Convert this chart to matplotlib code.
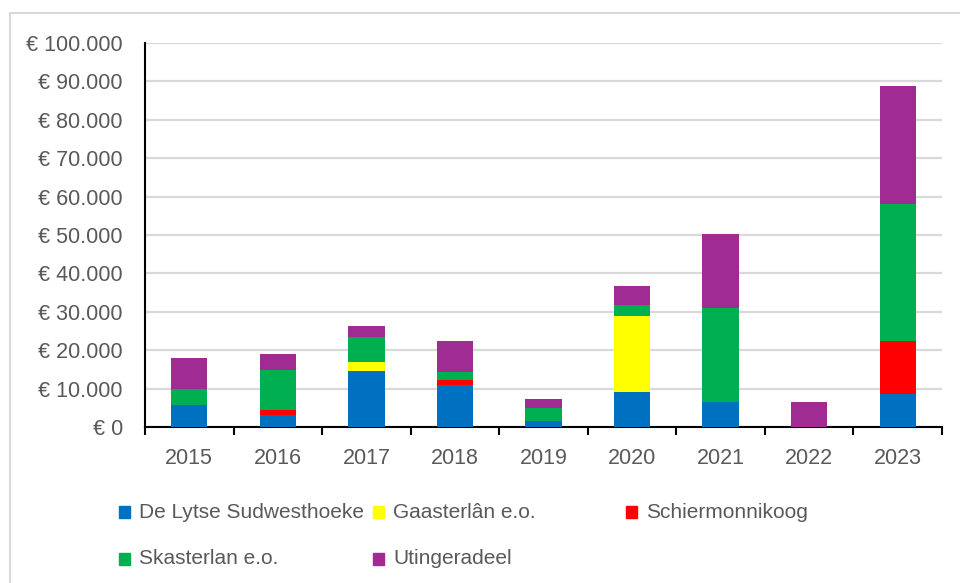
import matplotlib.pyplot as plt
from matplotlib.patches import Rectangle
import numpy as np

plt.rcParams['font.family'] = ['Liberation Sans', 'DejaVu Sans']

# Data (in euro)
years = ['2015', '2016', '2017', '2018', '2019', '2020', '2021', '2022', '2023']
series_names = ['De Lytse Sudwesthoeke', 'Gaasterlân e.o.', 'Schiermonnikoog',
                'Skasterlan e.o.', 'Utingeradeel']
de_lytse = [5600, 3200, 14600, 10900, 1600, 9000, 6600, 0, 8700]
gaasterlan = [0, 0, 2400, 0, 0, 20000, 0, 0, 0]
schiermonnikoog = [0, 1100, 0, 1400, 0, 0, 0, 0, 13800]
skasterlan = [4300, 10600, 6500, 1900, 3400, 2900, 24400, 0, 35700]
utingeradeel = [8100, 4100, 2900, 8100, 2300, 4800, 19300, 6600, 30700]

colors = ['#0070C0', '#FFFF00', '#FF0000', '#00B050', '#A02B93']
text_col = '#595959'

fig = plt.figure(figsize=(9.6, 5.83), dpi=100)
# chart border
fig.patches.append(Rectangle((10 / 960, -0.01), 1.0, (583 - 13) / 583 + 0.01,
                             transform=fig.transFigure, fill=False,
                             edgecolor='#d9d9d9', linewidth=1.5))

ax = fig.add_axes([145 / 960, 156 / 583, (942 - 145) / 960, (427 - 43) / 583])

x = np.arange(len(years))
bottom = np.zeros(len(years))
for vals, col in zip([de_lytse, gaasterlan, schiermonnikoog, skasterlan, utingeradeel], colors):
    ax.bar(x, vals, width=0.41, bottom=bottom, color=col, zorder=3)
    bottom += np.array(vals)

ax.set_xlim(-0.5, len(years) - 0.5)
ax.set_ylim(0, 100000)
ax.set_yticks(np.arange(0, 100001, 10000))
ax.set_yticklabels(['€ ' + f'{v:,}'.replace(',', '.') for v in range(0, 100001, 10000)])
ax.yaxis.grid(True, color='#d9d9d9', linewidth=1.6, zorder=0)
ax.tick_params(axis='y', length=0, pad=16, labelsize=15.5, labelcolor=text_col)

ax.set_xticks(x)
ax.set_xticklabels(years)
ax.set_xticks(np.arange(-0.5, len(years), 1), minor=True)
ax.tick_params(axis='x', which='major', length=0, pad=15, labelsize=15.5, labelcolor=text_col)
ax.tick_params(axis='x', which='minor', length=6, width=1.5, color='black', direction='out')

for s in ['top', 'right']:
    ax.spines[s].set_visible(False)
for s in ['left', 'bottom']:
    ax.spines[s].set_linewidth(1.5)
    ax.spines[s].set_color('black')

# legend laid out as in the original (3 equal columns, 2 rows)
col_x = [119, 373, 626]
row_y = [512, 559]
for i, (name, col) in enumerate(zip(series_names, colors)):
    cx = col_x[i % 3]
    cy = row_y[i // 3]
    fig.patches.append(Rectangle((cx / 960, (583 - cy - 6) / 583), 11 / 960, 12 / 583,
                                 transform=fig.transFigure, color=col))
    fig.text((cx + 20) / 960, (583 - cy) / 583, name, fontsize=15,
             color=text_col, va='center', ha='left')

fig.savefig('out.png', dpi=100)
